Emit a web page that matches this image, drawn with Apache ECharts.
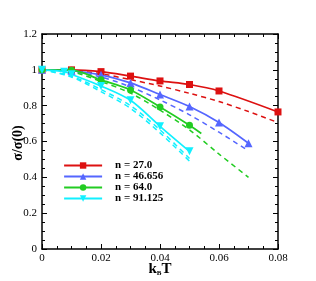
<!DOCTYPE html>
<html><head><meta charset="utf-8">
<script src="https://cdn.jsdelivr.net/npm/echarts@6/dist/echarts.min.js"></script>
<style>html,body{margin:0;padding:0;background:#fff}#c{width:316px;height:281px}</style>
</head><body><div id="c"></div>
<script>
// Legend names
const seriesNames = ['n = 27.0', 'n = 46.656', 'n = 64.0', 'n = 91.125'];
const colors = ['#dd1111', '#5566ff', '#22cc22', '#11f0ff'];
// Solid series (markers) x / y
const redX = [0, 0.01, 0.02, 0.03, 0.04, 0.05, 0.06, 0.08];
const redY = [1.0, 1.0, 0.99, 0.965, 0.938, 0.918, 0.882, 0.765];
const blueX = [0, 0.01, 0.02, 0.03, 0.04, 0.05, 0.06, 0.07];
const blueY = [1.0, 0.995, 0.972, 0.927, 0.862, 0.795, 0.706, 0.59];
const greenX = [0, 0.01, 0.02, 0.03, 0.04, 0.05];
const greenY = [1.0, 0.998, 0.944, 0.888, 0.793, 0.691];
const greenEndX = 0.054, greenEndY = 0.645;
const cyanX = [0, 0.0075, 0.01, 0.02, 0.03, 0.04, 0.05];
const cyanY = [1.0, 0.99, 0.975, 0.91, 0.83, 0.685, 0.545];
// Dashed curves
const redDashX = [0, 0.01, 0.02, 0.03, 0.04, 0.05, 0.06, 0.07, 0.08];
const redDashY = [1.0, 0.995, 0.978, 0.945, 0.91, 0.869, 0.823, 0.767, 0.706];
const blueDashX = [0, 0.01, 0.02, 0.03, 0.04, 0.05, 0.06, 0.07];
const blueDashY = [1.0, 0.99, 0.96, 0.905, 0.832, 0.749, 0.652, 0.548];
const greenDashX = [0, 0.01, 0.02, 0.03, 0.04, 0.05, 0.06, 0.07];
const greenDashY = [1.0, 0.99, 0.935, 0.87, 0.775, 0.665, 0.53, 0.40];
const cyanDashX = [0, 0.01, 0.02, 0.03, 0.04, 0.05];
const cyanDashY = [1.0, 0.965, 0.89, 0.8, 0.665, 0.505];
const cyanDash2Y = [1.0, 0.96, 0.878, 0.785, 0.648, 0.49];
// Axis ticks
const xMin = 0, xMax = 0.08, xStep = 0.02;
const yMin = 0, yMax = 1.2, yStep = 0.2;
const yTitle = 'σ/σ(0)';

const zip = (xs, ys) => xs.map((x, i) => [x, ys[i]]);
const font = 'Liberation Serif';

function solid(i, data, sym, size, rot) {
  return {
    name: seriesNames[i], type: 'line', data, smooth: 0.3,
    symbol: sym, symbolSize: size, symbolRotate: rot || 0, showAllSymbol: true,
    lineStyle: { color: colors[i], width: 1.7 }, itemStyle: { color: colors[i] },
    z: 3
  };
}
function dashed(i, data) {
  return {
    type: 'line', data, smooth: 0.3, symbol: 'none',
    lineStyle: { color: colors[i], width: 1.5, type: [5, 4] }, z: 2, silent: true
  };
}
const greenData = zip(greenX, greenY);
greenData.push({ value: [greenEndX, greenEndY], symbol: 'none' });

const axisCommon = {
  axisLine: { show: true, onZero: false, lineStyle: { color: '#000', width: 1.5 } },
  axisTick: { show: true, inside: true, length: 5, lineStyle: { color: '#000', width: 1 } },
  minorTick: { show: true, splitNumber: 4, length: 3, lineStyle: { color: '#000', width: 1 } },
  splitLine: { show: false }
};

const chart = echarts.init(document.getElementById('c'), null, { renderer: 'canvas' });
chart.setOption({
  animation: false,
  backgroundColor: '#fff',
  grid: { left: 42, right: 38, top: 34, bottom: 32, containLabel: false, outerBoundsMode: 'none' },
  legend: {
    data: seriesNames, orient: 'vertical', left: 63, top: 160, padding: 0,
    itemWidth: 38, itemHeight: 8, itemGap: 0,
    itemStyle: {}, lineStyle: { width: 2.2 },
    textStyle: { fontFamily: font, fontWeight: 'bold', fontSize: 11, color: '#000', lineHeight: 10, padding: [0, 0, 0, 8] }
  },
  graphic: [{
    type: 'text', x: 18, y: 143, rotation: Math.PI / 2, silent: true,
    style: { text: yTitle, fontFamily: font, fontWeight: 'bold', fontSize: 14, fill: '#000', align: 'center', verticalAlign: 'middle' }
  }],
  xAxis: [
    Object.assign({}, axisCommon, {
      type: 'value', min: xMin, max: xMax, interval: xStep, position: 'bottom',
      axisLabel: { fontFamily: font, fontSize: 11, color: '#000', margin: 4,
        formatter: v => (v === 0 ? '0' : v.toFixed(2)) },
      name: '{k|k}{s|B}{k|T}', nameLocation: 'middle', nameGap: 12, nameMoveOverlap: false,
      nameTextStyle: { rich: {
        k: { fontFamily: font, fontWeight: 'bold', fontSize: 15, color: '#000' },
        s: { fontFamily: font, fontWeight: 'bold', fontSize: 7, color: '#000', verticalAlign: 'bottom', padding: [9, 0, 0, 0] } } }
    }),
    Object.assign({}, axisCommon, {
      type: 'value', min: xMin, max: xMax, interval: xStep, position: 'top',
      axisLabel: { show: false }
    })
  ],
  yAxis: [
    Object.assign({}, axisCommon, {
      type: 'value', min: yMin, max: yMax, interval: yStep, position: 'left',
      axisLabel: { fontFamily: font, fontSize: 11, color: '#000', margin: 5,
        formatter: v => (v === 0 ? '0' : (v === 1 ? '1' : v.toFixed(1))) }
    }),
    Object.assign({}, axisCommon, {
      type: 'value', min: yMin, max: yMax, interval: yStep, position: 'right',
      axisLabel: { show: false }
    })
  ],
  series: [
    dashed(0, zip(redDashX, redDashY)),
    dashed(1, zip(blueDashX, blueDashY)),
    dashed(2, zip(greenDashX, greenDashY)),
    dashed(3, zip(cyanDashX, cyanDashY)),
    dashed(3, zip(cyanDashX, cyanDash2Y)),
    solid(0, zip(redX, redY), 'rect', 7),
    solid(1, zip(blueX, blueY), 'triangle', 8),
    solid(2, greenData, 'circle', 7),
    solid(3, zip(cyanX, cyanY), 'triangle', 8, 180)
  ]
});
</script></body></html>
